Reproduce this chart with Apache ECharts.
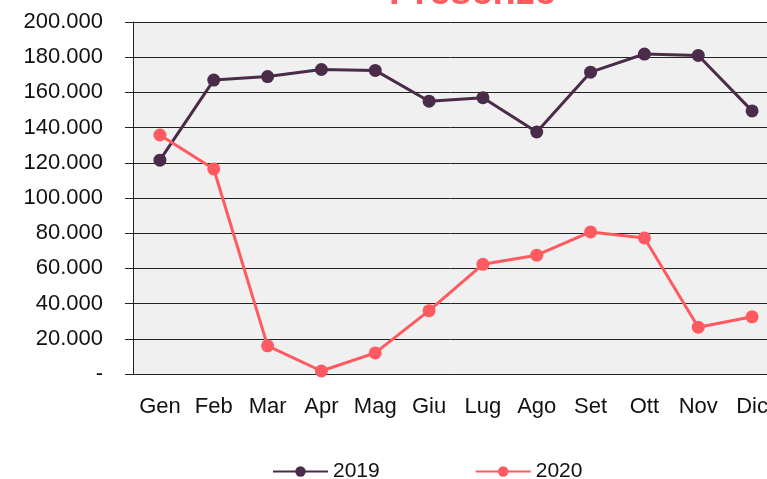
<!DOCTYPE html>
<html>
<head>
<meta charset="utf-8">
<script src="https://cdn.jsdelivr.net/npm/echarts@6/dist/echarts.min.js"></script>
<style>
  html, body { margin: 0; padding: 0; background: #fff; }
  #main { width: 767px; height: 479px; }
</style>
</head>
<body>
<div id="main"></div>
<script>
// dati
var mesi = ["Gen", "Feb", "Mar", "Apr", "Mag", "Giu", "Lug", "Ago", "Set", "Ott", "Nov", "Dic"];
var presenze2019 = [121500, 167000, 169000, 173000, 172500, 155000, 157000, 137500, 171500, 181800, 181000, 149500];
var presenze2020 = [135800, 116500, 16000, 1700, 12000, 36000, 62300, 67500, 80700, 77300, 26600, 32500];

var font = '"Liberation Sans", Arial, sans-serif';

var chartDom = document.getElementById('main');
var myChart = echarts.init(chartDom);

function fmt(v) {
  if (v === 0) return '-';
  return String(Math.round(v)).replace(/\B(?=(\d{3})+(?!\d))/g, '.');
}

var option = {
  animation: false,
  title: {
    text: 'Presenze',
    left: 384,
    top: -30,
    textStyle: { color: '#ff5a5f', fontSize: 38, fontWeight: 'bold', fontFamily: font }
  },
  legend: {
    left: 267,
    top: 456,
    itemWidth: 55,
    itemHeight: 13,
    itemGap: 95,
    textStyle: { fontSize: 21, color: '#111', fontFamily: font },
    data: ['2019', '2020']
  },
  grid: {
    left: 133,
    top: 22,
    width: 646,
    bottom: 105,
    outerBoundsMode: 'none',
    show: true,
    backgroundColor: '#f0f0f0',
    borderWidth: 0
  },
  xAxis: {
    type: 'category',
    data: mesi,
    axisLine: { lineStyle: { color: '#222', width: 1 } },
    axisTick: { length: 7, lineStyle: { color: '#222' } },
    axisLabel: { interval: 0, fontSize: 22, color: '#111', margin: 22, fontFamily: font }
  },
  yAxis: {
    type: 'value',
    min: 0,
    max: 200000,
    interval: 20000,
    axisLine: { show: true, lineStyle: { color: '#222', width: 1 } },
    axisTick: { show: true, length: 8, lineStyle: { color: '#222' } },
    axisLabel: { fontSize: 22, color: '#111', margin: 30, formatter: fmt, fontFamily: font },
    splitLine: { lineStyle: { color: '#222', width: 1 } }
  },
  series: [
    {
      name: '2019',
      type: 'line',
      data: presenze2019,
      symbol: 'circle',
      symbolSize: 13,
      color: '#4a2c4a',
      lineStyle: { width: 3 }
    },
    {
      name: '2020',
      type: 'line',
      data: presenze2020,
      symbol: 'circle',
      symbolSize: 13,
      color: '#ff5a5f',
      lineStyle: { width: 3 }
    }
  ]
};

myChart.setOption(option);
</script>
</body>
</html>
